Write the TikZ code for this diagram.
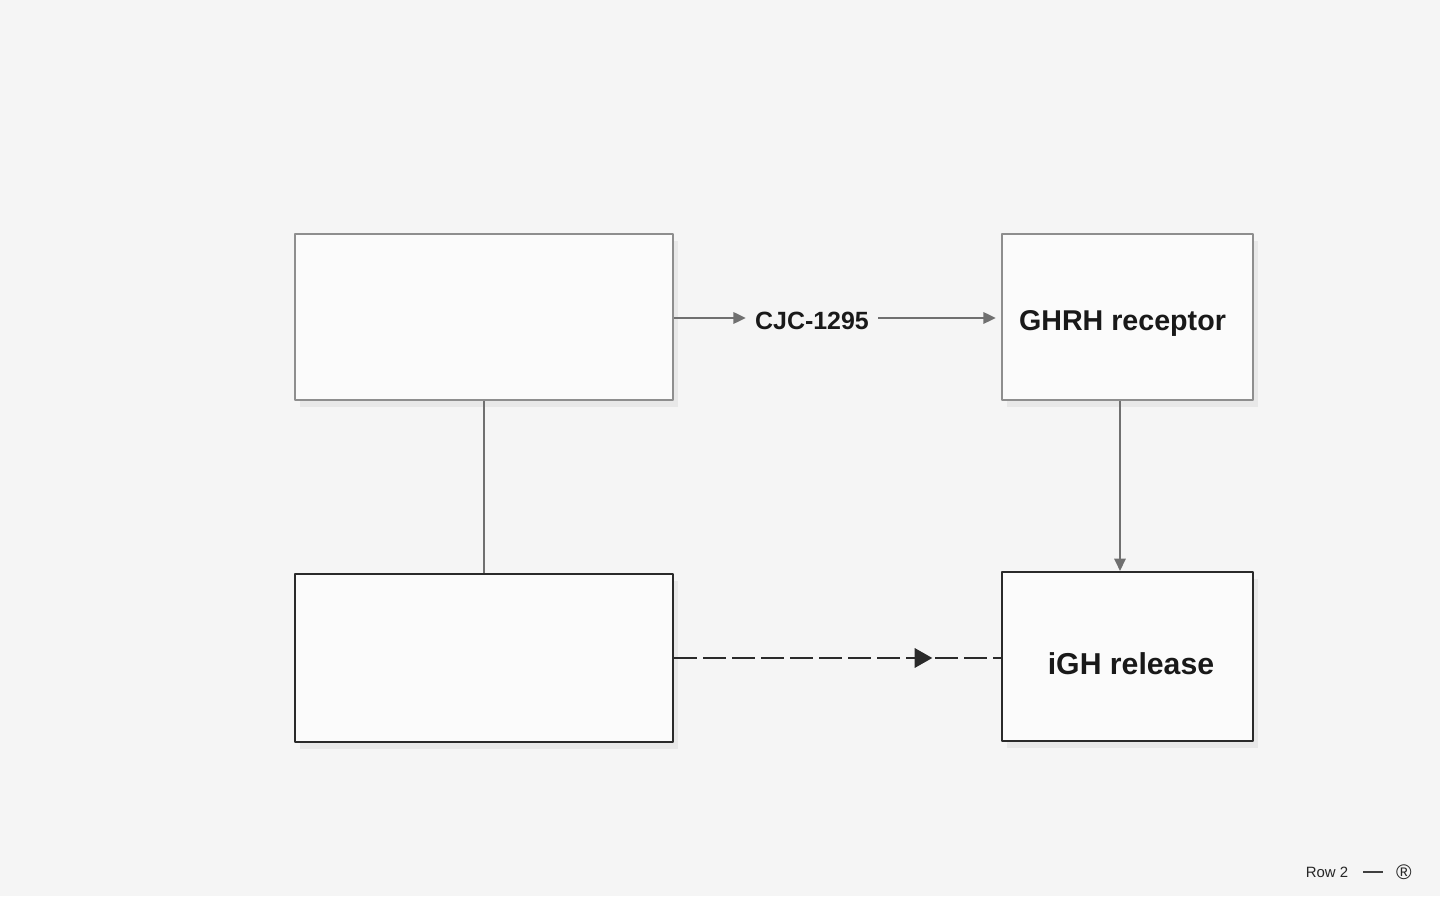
\documentclass[tikz,border=0pt]{standalone}
\usepackage{fontspec}
\setmainfont{Liberation Sans}
\usepackage{tikz}
\usetikzlibrary{arrows.meta,shadows,decorations.markings}
\definecolor{bg}{HTML}{F5F5F5}
\definecolor{boxfill}{HTML}{FBFBFB}
\definecolor{gray}{HTML}{707070}
\definecolor{lightline}{HTML}{8E8E8E}
\definecolor{darkline}{HTML}{2A2A2A}
\tikzset{
  every picture/.style={line join=round, >=Stealth},
  softshadow/.style={drop shadow={shadow xshift=3pt, shadow yshift=-4pt, fill=black, opacity=0.05}},
  softbox/.style={draw=lightline, line width=1.1pt, fill=boxfill, softshadow},
  hardbox/.style={draw=darkline, line width=1.2pt, fill=boxfill, softshadow},
  link/.style={gray, line width=1.1pt},
  tip/.style={-{Triangle[length=7pt,width=6.5pt]}},
  boxlabel/.style={font=\bfseries\fontsize{16.3}{19}\selectfont, text=black!90, text depth=0pt},
}

\begin{document}
\begin{tikzpicture}
\fill[bg] (0,0) rectangle (28.800,17.920);
\useasboundingbox (0,0) rectangle (28.800,17.920);
\node[softbox,minimum width=7.560cm,minimum height=3.320cm] (source) at (9.680,11.580) {};
\node[softbox,minimum width=5.020cm,minimum height=3.320cm,boxlabel,text height=0.53cm] (receptor) at (22.550,11.580) {GHRH receptor\kern0.20cm};
\node[hardbox,minimum width=5.020cm,minimum height=3.380cm,boxlabel,text height=0.71cm,font=\bfseries\fontsize{17.2}{20}\selectfont] (release) at (22.550,4.790) {\hspace{0.14cm}iGH release};
\node[hardbox,minimum width=7.560cm,minimum height=3.360cm] (lower) at (9.680,4.760) {};
\node[font=\bfseries\fontsize{14.2}{17}\selectfont,text=black!90,inner sep=0.18cm] (cjc) at (16.240,11.500) {CJC-1295};
\draw[link,tip] (source.east |- 0,11.560) -- (cjc.west |- 0,11.560);
\draw[link,tip,shorten >=3pt] (cjc.east |- 0,11.560) -- (receptor.west |- 0,11.560);
\draw[link] (source.south) -- (lower.north);
\draw[link,tip] (receptor.south -| 22.400,0) -- (release.north -| 22.400,0);
\draw[darkline,line width=1.2pt,dash pattern=on 13pt off 3.5pt,
  postaction={decorate,decoration={markings,mark=at position 0.79 with {\arrow{Triangle[length=10pt,width=11pt]}}}}]
  (lower.east |- 0,4.760) -- (release.west |- 0,4.760);
\node[font=\fontsize{8.5}{10}\selectfont,text=black!85] (rowtag) at (26.540,0.480) {Row 2};
\node[font=\fontsize{12}{14}\selectfont,text=black!85] (mark) at (28.080,0.480) {®};
\draw[black!75,line width=0.6pt] ([xshift=0.180cm]rowtag.east) -- ([xshift=-0.140cm]mark.west);
\end{tikzpicture}
\end{document}
